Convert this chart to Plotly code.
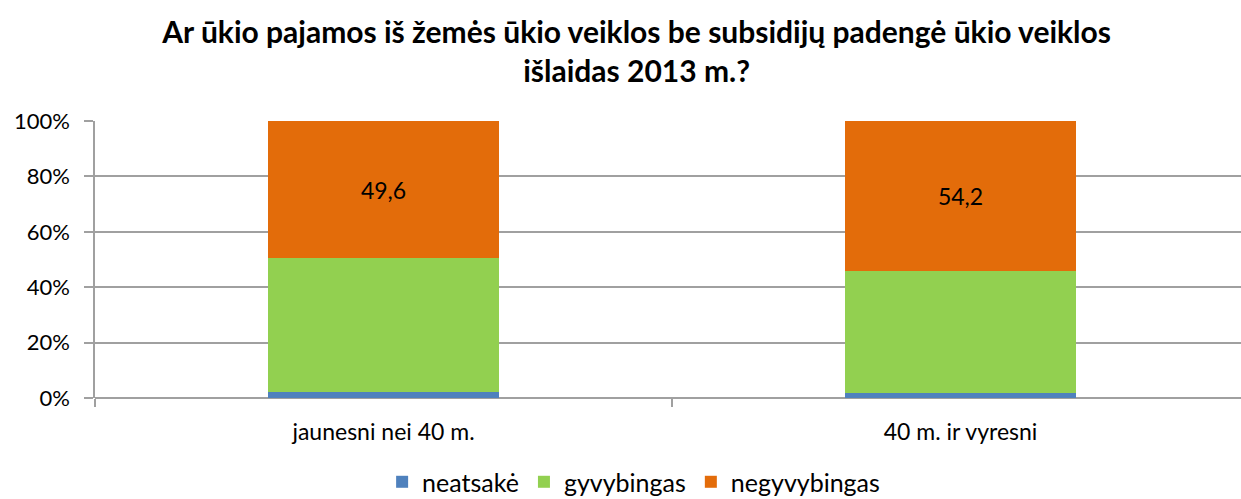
import plotly.graph_objects as go

categories = ["jaunesni nei 40 m.", "40 m. ir vyresni"]
neatsake = [2.2, 1.9]
gyvybingas = [48.2, 43.9]
negyvybingas = [49.6, 54.2]
series_names = ["neatsakė", "gyvybingas", "negyvybingas"]
colors = ["#4f81bd", "#92d050", "#e36c0a"]
title = "Ar ūkio pajamos iš žemės ūkio veiklos be subsidijų padengė ūkio veiklos<br>išlaidas 2013 m.?"

FONT = "Lato"

fig = go.Figure()
for name, vals, col in zip(series_names, [neatsake, gyvybingas, negyvybingas], colors):
    show_text = name == "negyvybingas"
    fig.add_trace(go.Bar(
        x=categories, y=vals, name=name, marker=dict(color=col, line=dict(width=0)),
        width=0.4,
        text=[f"{v:.1f}".replace(".", ",") for v in vals] if show_text else None,
        textposition="inside" if show_text else "none",
        insidetextanchor="middle",
        textfont=dict(family=FONT, size=23, color="#000000"),
        hoverinfo="skip",
    ))

fig.update_layout(
    barmode="stack",
    width=1241, height=499,
    margin=dict(l=95, r=0, t=121, b=101, autoexpand=False),
    paper_bgcolor="white", plot_bgcolor="white",
    font=dict(family=FONT, color="#000000"),
    title=dict(text=title, x=0.513, xanchor="center", y=0.914, yanchor="middle",
               font=dict(family=FONT, size=30, color="#000000", weight="bold")),
    showlegend=True,
    legend=dict(orientation="h", x=0.47, xanchor="center",
                yref="container", y=0.034, yanchor="middle",
                font=dict(family=FONT, size=25), traceorder="normal",
                itemwidth=30, itemsizing="constant"),
)
fig.update_xaxes(
    type="category", range=[-0.5, 1.486], tickson="boundaries",
    ticks="outside", ticklen=8, tickcolor="#a0a0a0", tickwidth=1.5,
    showline=False, showgrid=False, automargin=False,
    tickfont=dict(family=FONT, size=23), ticklabelstandoff=18,
)
fig.update_yaxes(
    range=[0, 100], tickvals=[0, 20, 40, 60, 80, 100],
    ticktext=["0%", "20%", "40%", "60%", "80%", "100%"],
    showgrid=True, gridcolor="#a0a0a0", gridwidth=1.5,
    showline=True, linecolor="#a0a0a0", linewidth=1.5,
    ticks="outside", ticklen=9, tickcolor="#a0a0a0", tickwidth=1.5,
    tickfont=dict(family=FONT, size=22), ticklabelstandoff=10, automargin=False,
    zeroline=True, zerolinecolor="#a0a0a0", zerolinewidth=1.5,
)

fig.write_html("out.html", config={"displayModeBar": False},
               post_script="document.body.style.margin='0';document.body.style.overflow='hidden';")
